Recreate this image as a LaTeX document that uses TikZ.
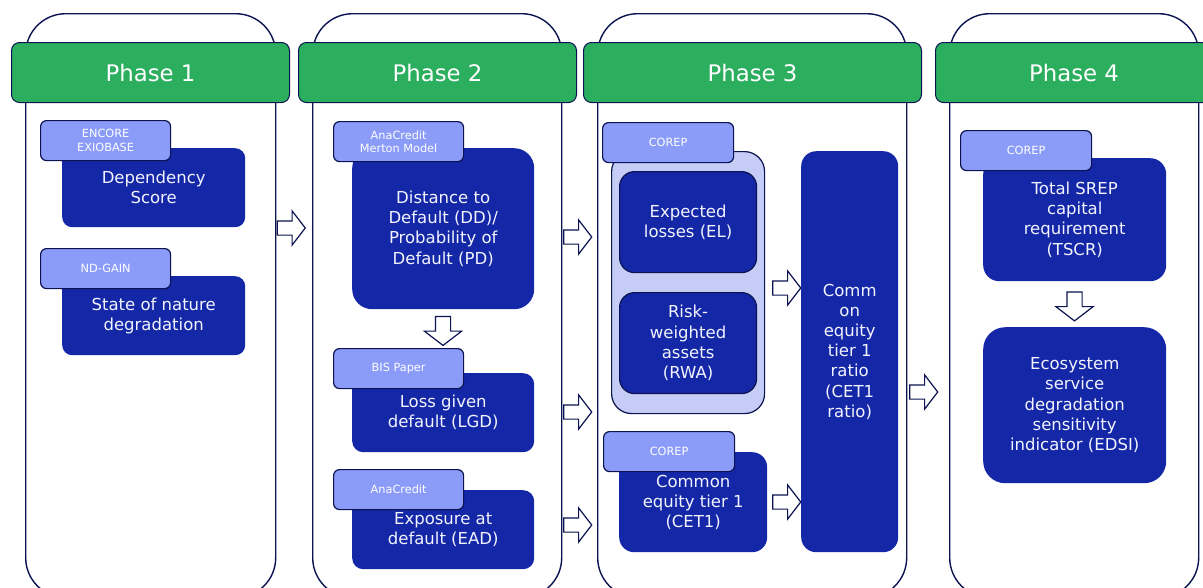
\documentclass[tikz,border=0pt]{standalone}
\usepackage{fontspec}
\setmainfont{DejaVu Sans}
\usetikzlibrary{shapes.arrows}
\definecolor{hgreen}{HTML}{2CAE5F}
\definecolor{bblue}{HTML}{1428A7}
\definecolor{lblue}{HTML}{8B9BF8}
\definecolor{cblue}{HTML}{C5CCF6}
\definecolor{navy}{HTML}{0B1350}
\definecolor{txt}{HTML}{F2F3FF}
\tikzset{
  column/.style={draw=navy, line width=1.4pt, fill=white, rounded corners=40pt, anchor=north west, inner sep=0pt, minimum height=584pt},
  header/.style={draw=navy, line width=1pt, fill=hgreen, rounded corners=8pt, text=white, font=\fontsize{22.8}{27}\selectfont, anchor=north west, inner sep=0pt, minimum height=60pt},
  bbox/.style={fill=bblue, text=txt, font=\fontsize{16.5}{20.2}\selectfont, align=center, inner sep=0pt, anchor=north west},
  tag/.style={draw=navy, line width=1.2pt, fill=lblue, rounded corners=6pt, text=white, font=\fontsize{11.3}{13.5}\selectfont, align=center, anchor=north west, inner sep=0pt, minimum width=130pt, minimum height=40pt},
  group/.style={draw=navy, line width=1.2pt, fill=cblue, rounded corners=20pt, anchor=north west, inner sep=0pt},
  barrow/.style={single arrow, draw=navy, line width=1.2pt, fill=white, inner sep=0pt, text height=6.5pt, text depth=6.5pt, text width=0pt, single arrow head extend=10pt, single arrow tip angle=105, minimum height=28pt},
  varrow/.style={barrow, shape border rotate=270, text height=0pt, text depth=0pt, text width=14pt, single arrow head extend=11pt, minimum height=29pt}
}
\begin{document}
\begin{tikzpicture}[x=1pt,y=-1pt]
\useasboundingbox (0,0) rectangle (1203,587);
\clip (0,0) rectangle (1203,587);
% columns
\node[column, minimum width=250pt] (c1) at (25,13) {};
\node[column, minimum width=249pt] (c2) at (312,13) {};
\node[column, minimum width=309pt] (c3) at (597,13) {};
\node[column, minimum width=249pt] (c4) at (949,13) {};
% headers
\node[header, minimum width=278pt] (h1) at (11,42) {Phase 1};
\node[header, minimum width=278pt] (h2) at (298,42) {Phase 2};
\node[header, minimum width=338pt] (h3) at (583,42) {Phase 3};
\node[header, minimum width=277pt] (h4) at (935,42) {Phase 4};
% phase 1
\node[bbox, rounded corners=10pt, minimum width=183pt, minimum height=79pt] (dep) at (62,148) {Dependency\\Score};
\node[tag] (tdep) at (40,120) {ENCORE\\EXIOBASE};
\node[bbox, rounded corners=10pt, minimum width=183pt, minimum height=79pt] (son) at (62,276) {State of nature\\degradation};
\node[tag] (tson) at (40,248) {ND-GAIN};
% phase 2
\node[bbox, rounded corners=20pt, minimum width=182pt, minimum height=161pt] (dd) at (352,148) {Distance to\\Default (DD)/\\Probability of\\Default (PD)};
\node[tag] (tdd) at (333,121) {AnaCredit\\Merton Model};
\node[bbox, rounded corners=11pt, minimum width=182pt, minimum height=79pt] (lgd) at (352,373) {Loss given\\default (LGD)};
\node[tag] (tlgd) at (333,348) {BIS Paper};
\node[bbox, rounded corners=11pt, minimum width=182pt, minimum height=79pt] (ead) at (352,490) {Exposure at\\default (EAD)};
\node[tag] (tead) at (333,469) {AnaCredit};
% phase 3
\node[group, minimum width=153pt, minimum height=262pt] (grp) at (611,151) {};
\node[tag, minimum width=131pt] (tgrp) at (602,122) {COREP};
\node[bbox, draw=navy, line width=1.2pt, rounded corners=15pt, minimum width=137pt, minimum height=101pt] (el) at (619,171) {Expected\\losses (EL)};
\node[bbox, draw=navy, line width=1.2pt, rounded corners=15pt, minimum width=137pt, minimum height=101pt] (rwa) at (619,292) {Risk-\\weighted\\assets\\(RWA)};
\node[bbox, rounded corners=15pt, minimum width=97pt, minimum height=401pt] (cr) at (801,151) {Comm\\on\\equity\\tier 1\\ratio\\(CET1\\ratio)};
\node[bbox, rounded corners=15pt, minimum width=148pt, minimum height=100pt] (cet) at (619,452) {Common\\equity tier 1\\(CET1)};
\node[tag, minimum width=131pt] (tcet) at (603,431) {COREP};
% phase 4
\node[bbox, rounded corners=16pt, minimum width=183pt, minimum height=123pt] (tscr) at (983,158) {Total SREP\\capital\\requirement\\(TSCR)};
\node[tag, minimum width=131pt] (ttscr) at (960,130) {COREP};
\node[bbox, rounded corners=22pt, minimum width=183pt, minimum height=156pt] (edsi) at (983,327) {Ecosystem\\service\\degradation\\sensitivity\\indicator (EDSI)};
% block arrows
\node[barrow] (a12) at (288.5,228) {};
\node[barrow] (a23a) at (575,237) {};
\node[barrow] (a23b) at (575,412) {};
\node[barrow] (a23c) at (575,525) {};
\node[barrow] (a3a) at (784,288) {};
\node[barrow] (a3b) at (784,502) {};
\node[barrow] (a34) at (921,392) {};
\node[varrow] (add) at (443,328) {};
\node[varrow] (ats) at (1074.5,303.5) {};
\end{tikzpicture}
\end{document}
